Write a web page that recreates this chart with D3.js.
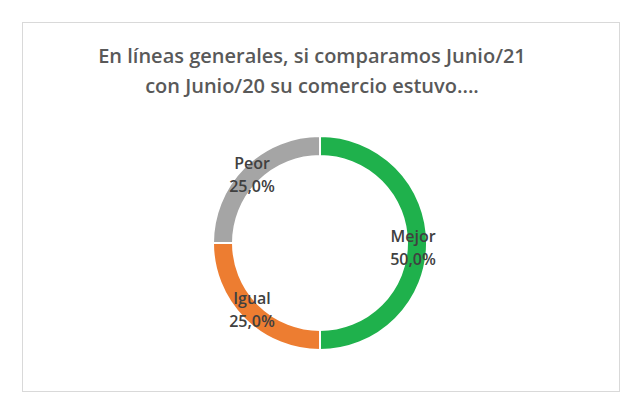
<!DOCTYPE html>
<html><head><meta charset="utf-8">
<script src="https://cdn.jsdelivr.net/npm/d3@7"></script>
<style>body{margin:0;background:#fff}</style>
</head><body>
<svg id="chart" width="642" height="417"></svg>
<script>
var categories=["Mejor","Igual","Peor"];
var values=[50,25,25];
var colors=["#1fb14c","#ed7d31","#a5a5a5"];
var labelPos=[[413,236],[252,298],[252,163]];

var svg=d3.select("#chart");
svg.append("rect").attr("x",22.5).attr("y",22.5).attr("width",597).attr("height",369)
    .attr("fill","#fff").attr("stroke","#d9d9d9");

var title=svg.append("text").attr("text-anchor","middle")
    .attr("font-family","Open Sans, sans-serif").attr("font-size",20).attr("font-weight",600).attr("fill","#595959");
title.append("tspan").attr("x",312).attr("y",63).text("En líneas generales, si comparamos Junio/21");
title.append("tspan").attr("x",312).attr("y",93).text("con Junio/20 su comercio estuvo....");

var pie=d3.pie().sort(null).value(function(d){return d;});
var arc=d3.arc().innerRadius(87).outerRadius(107);
var g=svg.append("g").attr("transform","translate(320,243)");
g.selectAll("path").data(pie(values)).enter().append("path")
    .attr("d",arc).attr("fill",function(d,i){return colors[i];})
    .attr("stroke","#fff").attr("stroke-width",2);

categories.forEach(function(c,i){
    var t=svg.append("text").attr("text-anchor","middle")
        .attr("font-family","Open Sans, sans-serif").attr("font-size",16).attr("font-weight",600).attr("fill","#404040");
    t.append("tspan").attr("x",labelPos[i][0]).attr("y",labelPos[i][1]+6).text(c);
    t.append("tspan").attr("x",labelPos[i][0]).attr("y",labelPos[i][1]+29).text(d3.format(".1f")(values[i]).replace(".",",")+"%");
});
</script>
</body></html>
